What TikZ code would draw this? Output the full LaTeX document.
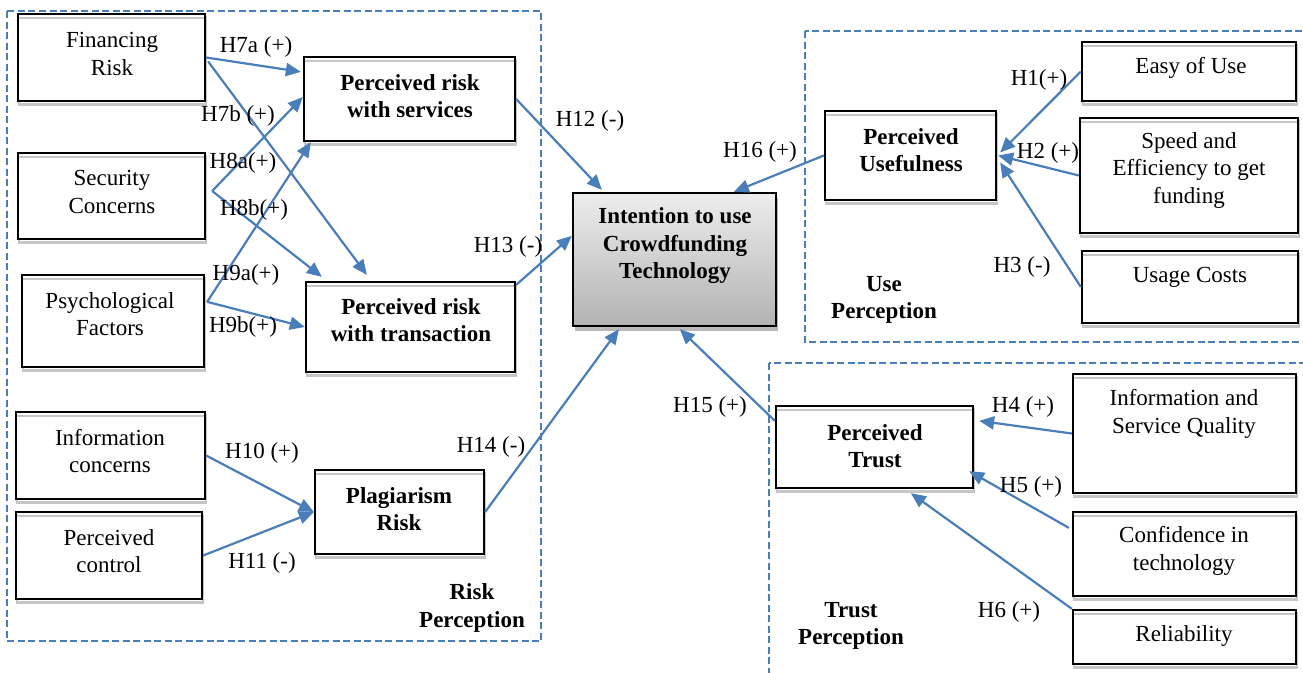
\documentclass[tikz,border=0pt]{standalone}
\usepackage{fontspec}
\setmainfont{Liberation Serif}
\usetikzlibrary{arrows.meta,calc}
\definecolor{lineblue}{RGB}{74,126,187}
\begin{document}
\begin{tikzpicture}[x=1pt,y=-1pt,
  box/.style={draw=black,line width=2.3pt,fill=white,inner sep=0pt,
    preaction={draw=gray!45,line width=2.3pt,transform canvas={xshift=1pt,yshift=-3.5pt}},
    path picture={\draw[gray!45,line width=1.8pt]
      ([yshift=-4pt]path picture bounding box.north west) -- ([yshift=-4pt]path picture bounding box.north east);}},
  mainbox/.style={draw=black,line width=2.3pt,inner sep=0pt,top color=white!93!black,bottom color=black!30,
    preaction={fill=gray!55,transform canvas={xshift=2pt,yshift=-5pt}}},
  txt/.style={align=center,font=\fontsize{23}{27.5}\selectfont,inner sep=0pt},
  btxt/.style={align=center,font=\fontsize{23}{27.5}\selectfont\bfseries,inner sep=0pt},
  lbl/.style={font=\fontsize{23}{27.5}\selectfont,inner sep=0pt},
  conn/.style={draw=lineblue,line width=2.2pt,-{Triangle[length=15pt,width=13pt]}},
  group/.style={draw=lineblue,line width=2pt,dash pattern=on 7pt off 3.5pt},
]
\useasboundingbox (0,0) rectangle (1303,672);
\clip (0,0) rectangle (1303,672);

% perception groups
\draw[group] (7,11) rectangle (541,641);
\draw[group] (805,31) rectangle (1320,342);
\draw[group] (769,363) rectangle (1320,700);

% boxes
\node[box,minimum width=187pt,minimum height=87pt] (fin) at (111.5,57.5) {};
\node[box,minimum width=187pt,minimum height=86pt] (sec) at (111.5,196) {};
\node[box,minimum width=182pt,minimum height=92pt] (psy) at (113,321) {};
\node[box,minimum width=189pt,minimum height=87pt] (inf) at (110.5,455.5) {};
\node[box,minimum width=186pt,minimum height=87pt] (ctl) at (109,555.5) {};
\node[box,minimum width=211pt,minimum height=84pt] (prs) at (409.5,99) {};
\node[box,minimum width=209pt,minimum height=90pt] (prt) at (410.5,327) {};
\node[box,minimum width=169pt,minimum height=84pt] (plg) at (399.5,512) {};
\node[mainbox,minimum width=203pt,minimum height=133pt] (itu) at (674.5,259.5) {};
\node[box,minimum width=171pt,minimum height=89pt] (pu) at (910.5,155.5) {};
\node[box,minimum width=214pt,minimum height=59pt] (eou) at (1189,71.5) {};
\node[box,minimum width=218pt,minimum height=115pt] (spd) at (1189,175.5) {};
\node[box,minimum width=216pt,minimum height=72pt] (usc) at (1190,287) {};
\node[box,minimum width=197pt,minimum height=82pt] (pt) at (874.5,447) {};
\node[box,minimum width=223pt,minimum height=119pt] (isq) at (1184.5,433.5) {};
\node[box,minimum width=223pt,minimum height=84pt] (cnf) at (1184.5,554) {};
\node[box,minimum width=223pt,minimum height=54pt] (rel) at (1184.5,637) {};

% box texts
\node[txt] (t-fin) at (112,54) {Financing\\Risk};
\node[txt] (t-sec) at (112,192) {Security\\Concerns};
\node[txt] (t-psy) at (110,314) {Psychological\\Factors};
\node[txt] (t-inf) at (110,451) {Information\\concerns};
\node[txt] (t-ctl) at (109,551) {Perceived\\control};
\node[btxt] (t-prs) at (410,96) {Perceived risk\\with services};
\node[btxt] (t-prt) at (411,320) {Perceived risk\\with transaction};
\node[btxt] (t-plg) at (399,509) {Plagiarism\\Risk};
\node[btxt] (t-itu) at (675,246) {Intention to use\\Crowdfunding\\Technology};
\node[btxt] (t-pu) at (911,150) {Perceived\\Usefulness};
\node[txt] (t-eou) at (1191,68) {Easy of Use};
\node[txt] (t-spd) at (1189,170) {Speed and\\Efficiency to get\\funding};
\node[txt] (t-usc) at (1190,277) {Usage Costs};
\node[btxt] (t-pt) at (875,446) {Perceived\\Trust};
\node[txt] (t-isq) at (1184,414) {Information and\\Service Quality};
\node[txt] (t-cnf) at (1184,551) {Confidence in\\technology};
\node[txt] (t-rel) at (1184,636) {Reliability};

% group labels
\node[btxt] (g-risk) at (472,608) {Risk\\Perception};
\node[btxt] (g-use) at (884,300) {Use\\Perception};
\node[btxt] (g-trust) at (851,626) {Trust\\Perception};

% connectors
\draw[conn] (fin.east) -- ($(prs.north west)+(-2,16)$);
\draw[conn] ($(fin.east)+(2,4)$) -- ($(prt.north west)+(62,-6)$);
\coordinate (secx) at ($(sec.east)+(6,-5)$);
\draw[conn] (secx) -- ($(prs.west)+(0,-2)$);
\draw[conn] (secx) -- ($(prt.north west)+(17,-4)$);
\coordinate (psyx) at ($(psy.north east)+(2,28)$);
\draw[conn] (psyx) -- ($(prs.south west)+(8,0)$);
\draw[conn] (psyx) -- (prt.west);
\draw[conn] (inf.east) -- (plg.west);
\draw[conn] (ctl.east) -- (plg.west);
\draw[conn] (prs.east) -- ($(itu.north west)+(30,-2)$);
\draw[conn] ($(prt.north east)+(0,4)$) -- ($(itu.north west)+(0,44)$);
\draw[conn] (plg.east) -- ($(itu.south west)+(47,2)$);
\draw[conn] ($(pt.north west)+(0,16)$) -- ($(itu.south west)+(108,2)$);
\draw[conn] (pu.west) -- ($(itu.north west)+(162,0)$);
\draw[conn] (eou.west) -- ($(pu.east)+(3,-3)$);
\draw[conn] (spd.west) -- ($(pu.east)+(1,0)$);
\draw[conn] (usc.west) -- ($(pu.east)+(3,7)$);
\draw[conn] (isq.west) -- ($(pt.north east)+(5,16)$);
\draw[conn] ($(cnf.north west)+(-3,17)$) -- ($(pt.south east)+(-5,-18)$);
\draw[conn] (rel.north west) -- ($(pt.south west)+(136,4)$);

% hypothesis labels
\node[lbl] (h7a) at (256,47) {H7a (+)};
\node[lbl] (h7b) at (238,116) {H7b (+)};
\node[lbl] (h8a) at (243,163) {H8a(+)};
\node[lbl] (h8b) at (254,210) {H8b(+)};
\node[lbl] (h9a) at (246,275) {H9a(+)};
\node[lbl] (h9b) at (243,327) {H9b(+)};
\node[lbl] (h10) at (262,453) {H10 (+)};
\node[lbl] (h11) at (262,563) {H11 (-)};
\node[lbl] (h12) at (590,121) {H12 (-)};
\node[lbl] (h13) at (508,247) {H13 (-)};
\node[lbl] (h14) at (491,447) {H14 (-)};
\node[lbl] (h15) at (710,407) {H15 (+)};
\node[lbl] (h16) at (760,152) {H16 (+)};
\node[lbl] (h1) at (1039,80) {H1(+)};
\node[lbl] (h2) at (1048,153) {H2 (+)};
\node[lbl] (h3) at (1022,267) {H3 (-)};
\node[lbl] (h4) at (1023,407) {H4 (+)};
\node[lbl] (h5) at (1031,487) {H5 (+)};
\node[lbl] (h6) at (1009,612) {H6 (+)};
\end{tikzpicture}
\end{document}
